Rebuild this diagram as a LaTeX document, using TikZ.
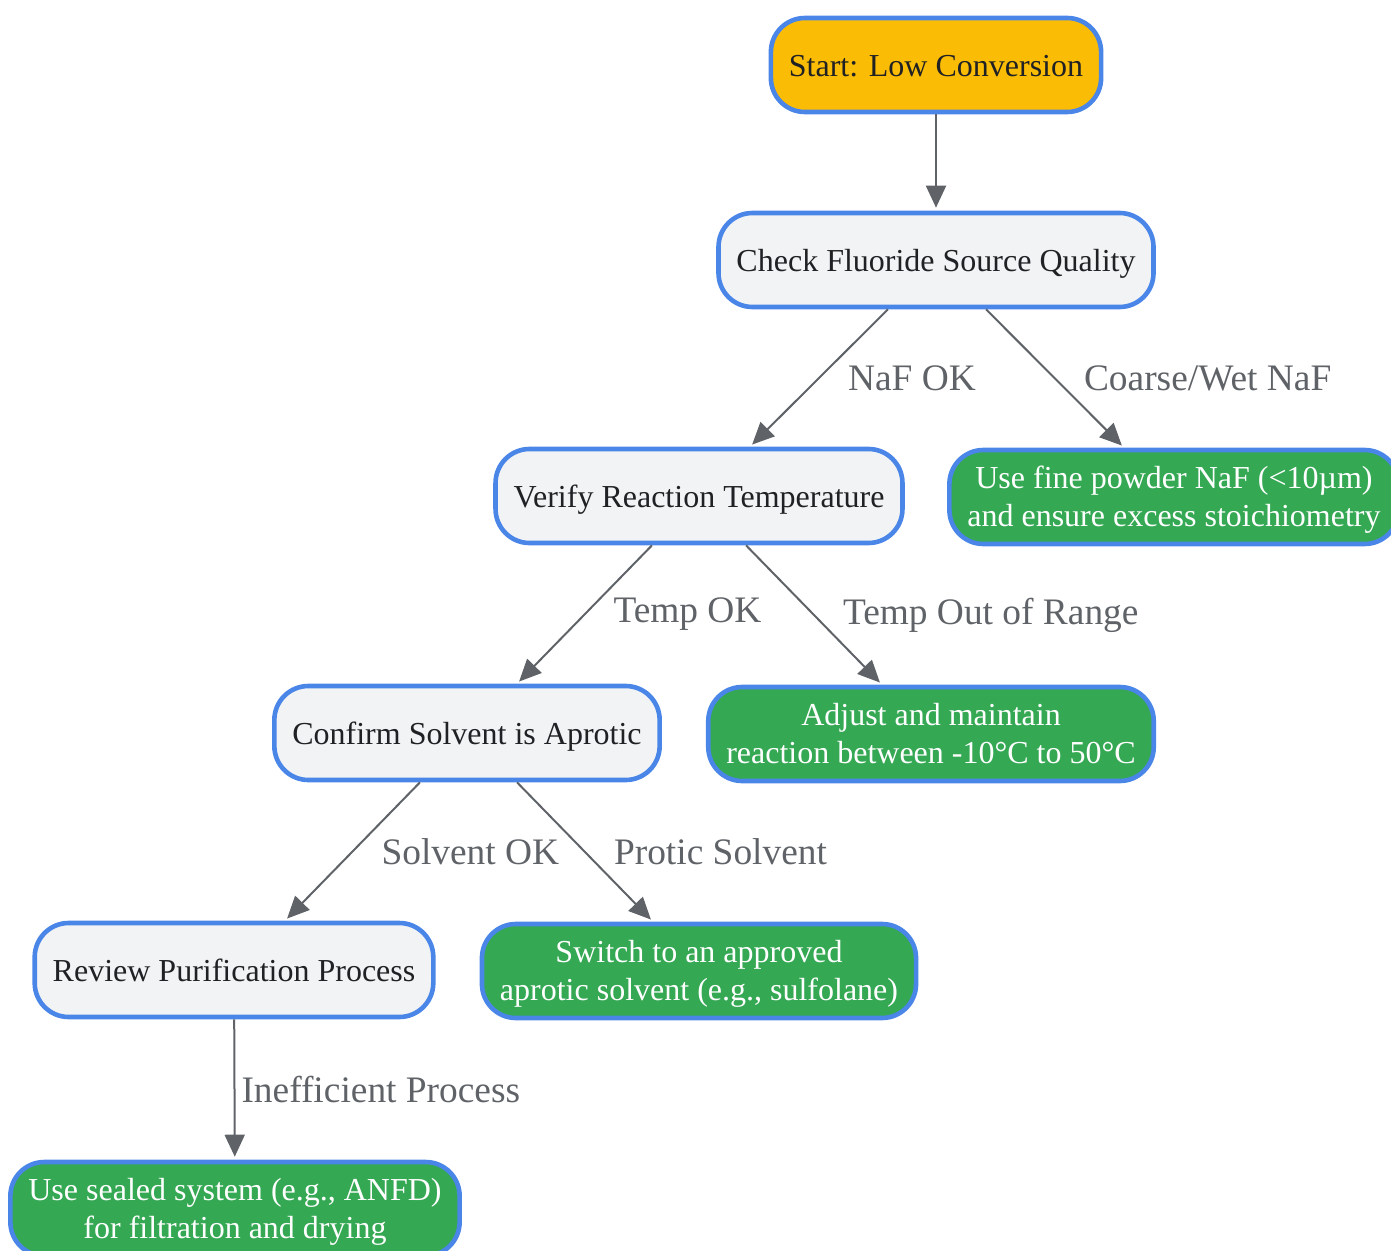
\documentclass[tikz,border=0pt]{standalone}
\usepackage{fontspec}
\setmainfont{Liberation Serif}
\usetikzlibrary{arrows.meta,positioning}
\definecolor{nodeblue}{HTML}{4A86E8}
\definecolor{boxgray}{HTML}{F1F3F4}
\definecolor{fixgreen}{HTML}{34A853}
\definecolor{startyellow}{HTML}{FBBC05}
\definecolor{textdark}{HTML}{202124}
\definecolor{edgegray}{HTML}{5F6368}
\tikzset{
	box/.style={draw=nodeblue, line width=2.3pt, rounded corners=17pt, fill=boxgray, text=textdark,
		inner xsep=9pt, inner ysep=3pt, minimum height=47pt, align=center,
		text height=11.5pt, text depth=0pt, font=\fontsize{16}{19}\selectfont},
	fixbox/.style={box, fill=fixgreen, text=white, text height=29pt, text depth=0pt},
	startbox/.style={box, fill=startyellow},
	flow/.style={draw=edgegray, line width=1pt, shorten >=1.5pt, -{Triangle[length=11pt,width=10pt]}},
	lbl/.style={text=edgegray, inner sep=0pt, font=\fontsize{18.7}{22}\selectfont}
}

\begin{document}
\begin{tikzpicture}[x=0.5pt,y=-0.5pt]
	\useasboundingbox (0,0) rectangle (1391,1251);

	\node[startbox] (start) at (936,65) {Start: Low Conversion};
	\node[box] (source) at (936,260) {Check Fluoride Source Quality};
	\node[box] (temp) at (699,496) {Verify Reaction Temperature};
	\node[fixbox] (powder) at (1174,497) {Use fine powder NaF (<10µm)\\and ensure excess stoichiometry};
	\node[box] (solvent) at (467,733) {Confirm Solvent is Aprotic};
	\node[fixbox] (heat) at (931,734) {Adjust and maintain\\reaction between -10°C to 50°C};
	\node[box] (purify) at (234,970) {Review Purification Process};
	\node[fixbox] (switch) at (699,971) {Switch to an approved\\aprotic solvent (e.g., sulfolane)};
	\node[fixbox] (sealed) at (235,1209) {Use sealed system (e.g., ANFD)\\for filtration and drying};

	\draw[flow] (start) -- (source);
	\draw[flow] ([xshift=-24pt]source.south) -- ([xshift=25.5pt]temp.north)
		node[lbl, midway, right=14pt] {NaF OK};
	\draw[flow] ([xshift=25pt]source.south) -- ([xshift=-25pt]powder.north)
		node[lbl, midway, right=14pt] {Coarse/Wet NaF};
	\draw[flow] ([xshift=-23.5pt]temp.south) -- ([xshift=25pt]solvent.north)
		node[lbl, midway, right=14pt] {Temp OK};
	\draw[flow] ([xshift=23.5pt]temp.south) -- ([xshift=-24.5pt]heat.north)
		node[lbl, midway, right=14pt] {Temp Out of Range};
	\draw[flow] ([xshift=-23.5pt]solvent.south) -- ([xshift=25.5pt]purify.north)
		node[lbl, midway, right=14pt] {Solvent OK};
	\draw[flow] ([xshift=25pt]solvent.south) -- ([xshift=-23pt]switch.north)
		node[lbl, midway, right=14pt] {Protic Solvent};
	\draw[flow] (purify) -- (sealed)
		node[lbl, midway, right=3pt] {Inefficient Process};
\end{tikzpicture}
\end{document}
